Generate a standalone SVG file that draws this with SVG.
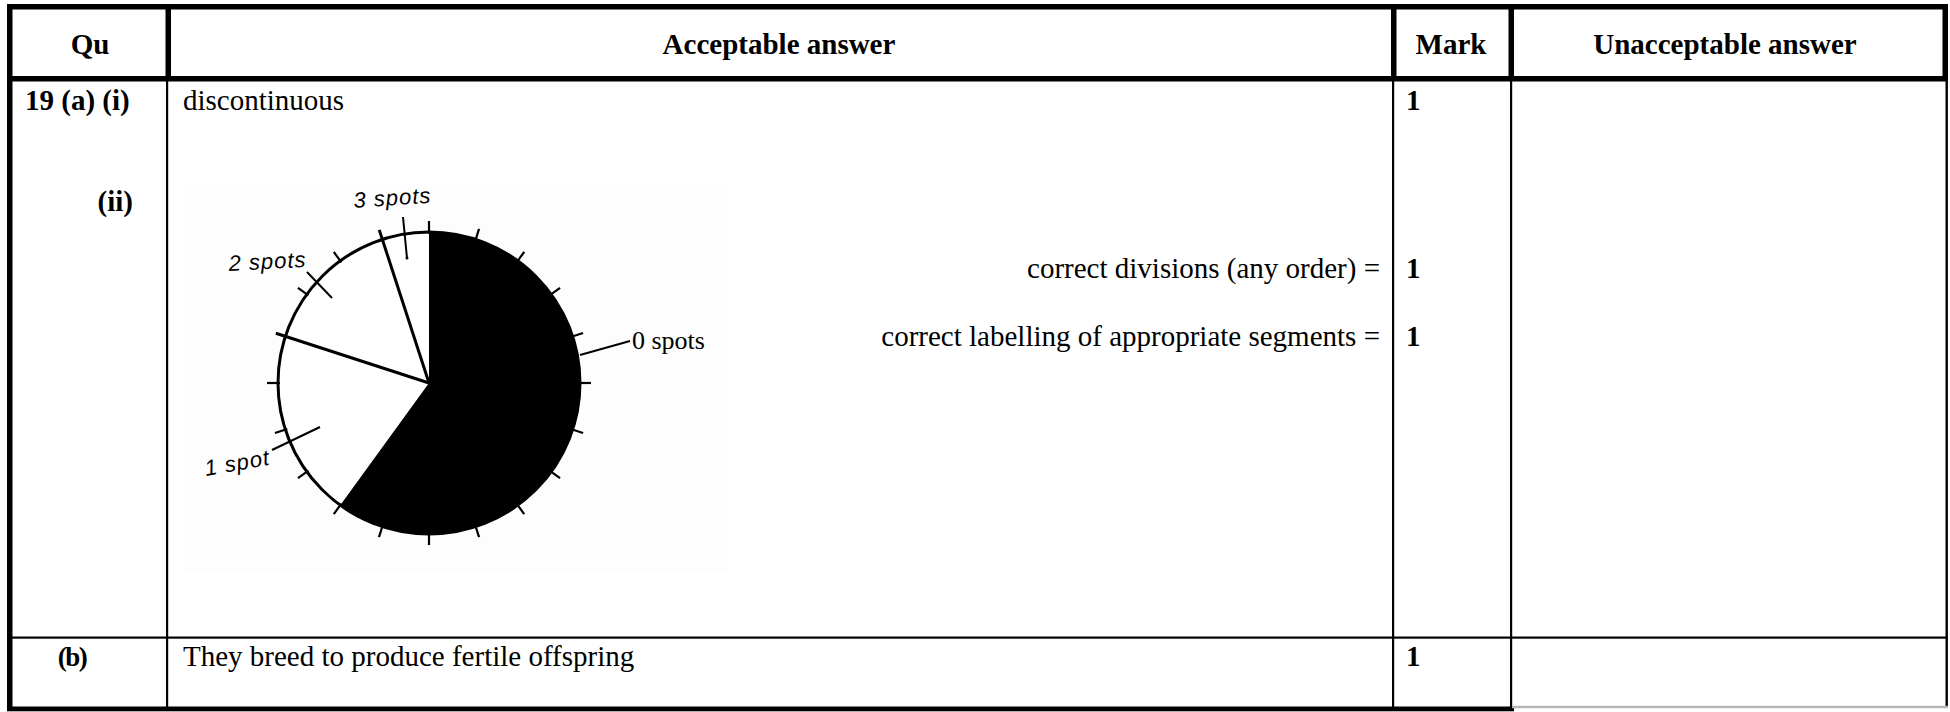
<svg xmlns="http://www.w3.org/2000/svg" width="1950" height="712" viewBox="0 0 1950 712">
<style>
.t{font-family:"Liberation Serif","Times New Roman",serif;font-size:29px;fill:#000}
.b{font-weight:bold}
.m{text-anchor:middle}
.e{text-anchor:end}
.hw{font-family:"Liberation Sans","DejaVu Sans",sans-serif;font-style:italic;font-size:22px;letter-spacing:1px;fill:#000}
.ln{stroke:#000;fill:none}
</style>
<rect width="1950" height="712" fill="#fff"/>
<g id="table-lines" fill="#000">
  <rect x="7" y="4" width="1941" height="5.5"/>
  <rect x="7" y="76" width="1941" height="5.5"/>
  <rect x="7" y="4" width="5.5" height="707"/>
  <rect x="165.5" y="4" width="5.5" height="77"/>
  <rect x="1391" y="4" width="5.5" height="77"/>
  <rect x="1508.5" y="4" width="5.5" height="77"/>
  <rect x="1942.5" y="4" width="5.5" height="77"/>
  <rect x="166" y="80" width="2.2" height="630"/>
  <rect x="1392" y="80" width="2.2" height="630"/>
  <rect x="1510" y="80" width="2.2" height="630"/>
  <rect x="1945.5" y="80" width="2.4" height="627"/>
  <rect x="7" y="636.5" width="1941" height="2.2"/>
  <rect x="7" y="706.5" width="1507" height="4.8"/>
  <rect x="1512" y="705.8" width="436" height="2.4" fill="#b4b4b4"/>
</g>
<g id="header">
  <text class="t b m" x="90" y="54">Qu</text>
  <text class="t b m" x="779" y="54">Acceptable answer</text>
  <text class="t b m" x="1451" y="54">Mark</text>
  <text class="t b m" x="1725" y="54">Unacceptable answer</text>
</g>
<g id="row-a">
  <text class="t b" x="25" y="110">19 (a) (i)</text>
  <text class="t" x="183" y="110">discontinuous</text>
  <text class="t b" x="1406" y="110">1</text>
  <text class="t b e" x="133" y="211">(ii)</text>
  <text class="t e" x="1380" y="278">correct divisions (any order) =</text>
  <text class="t b" x="1406" y="278">1</text>
  <text class="t e" x="1380" y="346">correct labelling of appropriate segments =</text>
  <text class="t b" x="1406" y="346">1</text>
</g>
<g id="pie-chart">
  <rect x="184" y="184" width="544" height="388" fill="#fdfdfd"/>
  <g transform="translate(429,383)">
    <circle r="151" fill="#fff" stroke="#000" stroke-width="3"/>
    <path d="M0,0 L0,-151 A151,151 0 1 1 -88.76,122.16 Z" fill="#000"/>
    <g class="ln" stroke-width="2.2">
      <line x1="0" y1="-149" x2="0" y2="-162"/>
      <line x1="0" y1="-149" x2="0" y2="-162" transform="rotate(18)"/>
      <line x1="0" y1="-149" x2="0" y2="-162" transform="rotate(36)"/>
      <line x1="0" y1="-149" x2="0" y2="-162" transform="rotate(54)"/>
      <line x1="0" y1="-149" x2="0" y2="-162" transform="rotate(72)"/>
      <line x1="0" y1="-149" x2="0" y2="-162" transform="rotate(90)"/>
      <line x1="0" y1="-149" x2="0" y2="-162" transform="rotate(108)"/>
      <line x1="0" y1="-149" x2="0" y2="-162" transform="rotate(126)"/>
      <line x1="0" y1="-149" x2="0" y2="-162" transform="rotate(144)"/>
      <line x1="0" y1="-149" x2="0" y2="-162" transform="rotate(162)"/>
      <line x1="0" y1="-149" x2="0" y2="-162" transform="rotate(180)"/>
      <line x1="0" y1="-149" x2="0" y2="-162" transform="rotate(198)"/>
      <line x1="0" y1="-149" x2="0" y2="-162" transform="rotate(216)"/>
      <line x1="0" y1="-149" x2="0" y2="-162" transform="rotate(234)"/>
      <line x1="0" y1="-149" x2="0" y2="-162" transform="rotate(252)"/>
      <line x1="0" y1="-149" x2="0" y2="-162" transform="rotate(270)"/>
      <line x1="0" y1="-149" x2="0" y2="-162" transform="rotate(306)"/>
      <line x1="0" y1="-149" x2="0" y2="-162" transform="rotate(324)"/>
    </g>
    <g class="ln" stroke-width="3">
      <line x1="0" y1="0" x2="0" y2="-161" transform="rotate(288)"/>
      <line x1="0" y1="0" x2="0" y2="-161" transform="rotate(342)"/>
    </g>
  </g>
  <g class="ln" stroke-width="2">
    <line x1="403" y1="217" x2="407" y2="258"/>
    <line x1="307" y1="272" x2="332" y2="298"/>
    <line x1="272" y1="450" x2="320" y2="427"/>
    <line x1="580" y1="355" x2="630" y2="341"/>
  </g>
  <circle cx="407" cy="258" r="1.5" fill="#000"/>
  <text class="hw" x="354" y="208" transform="rotate(-4 354 208)">3 spots</text>
  <text class="hw" x="229" y="271" transform="rotate(-3 229 271)">2 spots</text>
  <text class="hw" x="206" y="476" transform="rotate(-10 206 476)">1 spot</text>
  <text class="t" x="632" y="349" style="font-size:26px">0 spots</text>
</g>
<g id="row-b">
  <text class="t b m" x="72" y="666" style="font-size:27px;letter-spacing:-1.5px">(b)</text>
  <text class="t" x="183" y="666">They breed to produce fertile offspring</text>
  <text class="t b" x="1406" y="666">1</text>
</g>
</svg>
